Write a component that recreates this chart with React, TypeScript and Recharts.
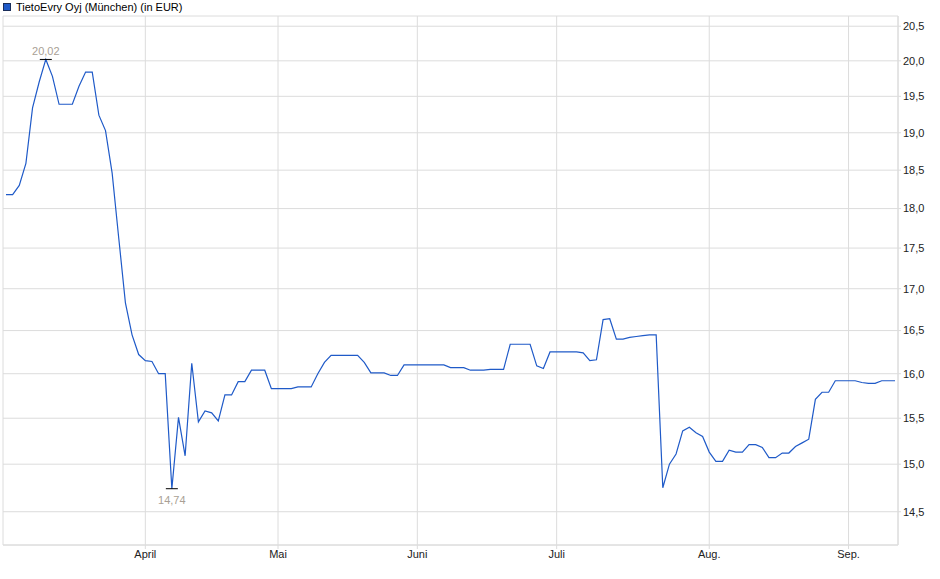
import React from 'react'
import {
  LineChart, Line, XAxis, YAxis, CartesianGrid,
} from 'recharts'

// trading days (Börse München, 2025)
const marchDays = [3, 4, 5, 6, 7, 10, 11, 12, 13, 14, 17, 18, 19, 20, 21, 24, 25, 26, 27, 28, 31]
const aprilDays = [1, 2, 3, 4, 7, 8, 9, 10, 11, 14, 15, 16, 17, 22, 23, 24, 25, 28, 29, 30]
const mayDays = [2, 5, 6, 7, 8, 9, 12, 13, 14, 15, 16, 19, 20, 21, 22, 23, 26, 27, 28, 29, 30]
const juneDays = [2, 3, 4, 5, 6, 9, 10, 11, 12, 13, 16, 17, 18, 19, 20, 23, 24, 25, 26, 27, 30]
const julyDays = [1, 2, 3, 4, 7, 8, 9, 10, 11, 14, 15, 16, 17, 18, 21, 22, 23, 24, 25, 28, 29, 30, 31]
const augustDays = [1, 4, 5, 6, 7, 8, 11, 12, 13, 14, 15, 18, 19, 20, 21, 22, 25, 26, 27, 28, 29]
const septemberDays = [1, 2, 3, 4, 5, 8, 9, 10]

const prices = [
  18.18, 18.18, 18.30, 18.59, 19.34, 19.70, 20.02, 19.78, 19.39, 19.39,
  19.39, 19.64, 19.84, 19.84, 19.24, 19.03, 18.46, 17.62, 16.83, 16.45,
  16.22, 16.15, 16.14, 16.00, 16.00, 14.74, 15.51, 15.09, 16.12, 15.46,
  15.58, 15.56, 15.47, 15.76, 15.76, 15.91, 15.91, 16.04, 16.04, 16.04,
  15.83, 15.83, 15.83, 15.83, 15.85, 15.85, 15.85, 16.00, 16.13, 16.21,
  16.21, 16.21, 16.21, 16.21, 16.13, 16.01, 16.01, 16.01, 15.98, 15.98,
  16.10, 16.10, 16.10, 16.10, 16.10, 16.10, 16.10, 16.07, 16.07, 16.07,
  16.04, 16.04, 16.04, 16.05, 16.05, 16.05, 16.34, 16.34, 16.34, 16.34,
  16.09, 16.06, 16.25, 16.25, 16.25, 16.25, 16.25, 16.24, 16.15, 16.16,
  16.63, 16.64, 16.40, 16.40, 16.42, 16.43, 16.44, 16.45, 16.45, 14.75,
  15.00, 15.11, 15.36, 15.40, 15.34, 15.30, 15.13, 15.03, 15.03, 15.15,
  15.13, 15.13, 15.21, 15.21, 15.18, 15.07, 15.07, 15.12, 15.12, 15.19,
  15.23, 15.27, 15.71, 15.79, 15.79, 15.92, 15.92, 15.92, 15.92, 15.90,
  15.89, 15.89, 15.92, 15.92, 15.92,
]

const monthTicks = ['2025-04-01', '2025-05-02', '2025-06-02', '2025-07-01', '2025-08-01', '2025-09-01']
const monthLabels = ['April', 'Mai', 'Juni', 'Juli', 'Aug.', 'Sep.']
const priceTicks = [14.5, 15, 15.5, 16, 16.5, 17, 17.5, 18, 18.5, 19, 19.5, 20, 20.5]

const pad = (n: number) => String(n).padStart(2, '0')
const dates = [
  ...marchDays.map(d => `2025-03-${pad(d)}`),
  ...aprilDays.map(d => `2025-04-${pad(d)}`),
  ...mayDays.map(d => `2025-05-${pad(d)}`),
  ...juneDays.map(d => `2025-06-${pad(d)}`),
  ...julyDays.map(d => `2025-07-${pad(d)}`),
  ...augustDays.map(d => `2025-08-${pad(d)}`),
  ...septemberDays.map(d => `2025-09-${pad(d)}`),
]

const data = dates.map((date, i) => ({ date, price: prices[i] }))

const maxIdx = prices.indexOf(Math.max(...prices))
const minIdx = prices.indexOf(Math.min(...prices))

const fmt = (v: number) => v.toFixed(2).replace('.', ',')
const font = '"Liberation Sans", Arial, sans-serif'

function ExtremeDot(props: any) {
  const { cx, cy, index, value } = props
  if (index !== maxIdx && index !== minIdx) return <g key={index} />
  const isMax = index === maxIdx
  return (
    <g key={index}>
      <line x1={cx - 6} x2={cx + 6} y1={cy} y2={cy} stroke="#000" strokeWidth={1} />
      <text
        x={cx}
        y={isMax ? cy - 4 : cy + 15}
        textAnchor="middle"
        fontSize={11}
        fontFamily={font}
        fill="#a99f95"
      >
        {fmt(value)}
      </text>
    </g>
  )
}

export default function App() {
  return (
    <div style={{ position: 'absolute', left: 0, top: 0, width: 940, height: 579, background: '#fff', fontFamily: font }}>
      <div style={{ position: 'absolute', left: 3, top: 0, display: 'flex', alignItems: 'center', fontSize: 11, color: '#000', height: 13 }}>
        <span style={{ display: 'inline-block', width: 6, height: 6, background: '#1f5ac8', border: '1px solid #1a2e5a', marginRight: 5 }} />
        TietoEvry Oyj (München) (in EUR)
      </div>
      <LineChart
        width={940}
        height={579}
        data={data}
        margin={{ top: 16, right: 0, left: 3, bottom: 0 }}
      >
        <CartesianGrid stroke="#dcdcdc" />
        <XAxis
          dataKey="date"
          ticks={monthTicks}
          interval={0}
          tickFormatter={d => monthLabels[monthTicks.indexOf(d as string)] ?? ''}
          padding={{ left: 3, right: 3 }}
          height={34}
          tick={{ fontSize: 11, fill: '#222', fontFamily: font }}
          tickSize={4}
          tickMargin={1}
          stroke="#dcdcdc"
        />
        <XAxis
          xAxisId="top"
          dataKey="date"
          orientation="top"
          height={0}
          tick={false}
          tickLine={false}
          stroke="#dcdcdc"
        />
        <YAxis
          orientation="right"
          scale="log"
          type="number"
          domain={[14.16, 20.65]}
          allowDataOverflow
          ticks={priceTicks}
          interval={0}
          tickFormatter={v => (v as number).toFixed(1).replace('.', ',')}
          width={42}
          tick={{ fontSize: 11, fill: '#222', fontFamily: font }}
          tickSize={3}
          tickMargin={2}
          stroke="#dcdcdc"
        />
        <YAxis
          yAxisId="left"
          orientation="left"
          width={0}
          tick={false}
          tickLine={false}
          stroke="#dcdcdc"
        />
        <Line
          type="linear"
          dataKey="price"
          stroke="#1f5ac8"
          strokeWidth={1.2}
          dot={ExtremeDot}
          activeDot={false}
          isAnimationActive={false}
        />
      </LineChart>
    </div>
  )
}
